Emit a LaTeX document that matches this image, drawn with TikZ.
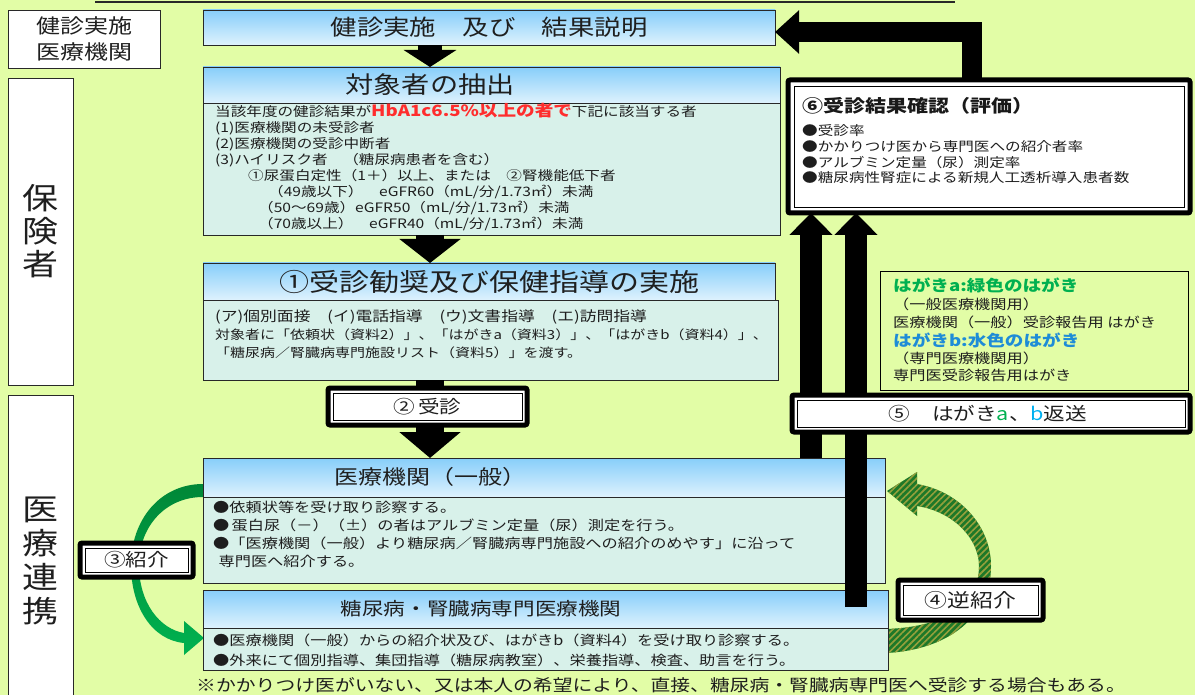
\documentclass[tikz,border=0pt]{standalone}
\usepackage{fontspec}
\setmainfont{Noto Sans CJK JP}[FakeStretch=1.2]
\usetikzlibrary{arrows.meta,patterns.meta}
\definecolor{bgc}{RGB}{226,253,166}
\definecolor{hdtop}{RGB}{135,206,250}
\definecolor{hdbot}{RGB}{222,242,253}
\definecolor{bodyc}{RGB}{216,241,234}
\definecolor{edge}{RGB}{40,40,40}
\definecolor{txt}{RGB}{30,30,30}
\definecolor{redt}{RGB}{255,45,45}
\definecolor{grt}{RGB}{0,176,80}
\definecolor{blt}{RGB}{30,140,215}
\definecolor{cyt}{RGB}{0,176,240}
\definecolor{gdark}{RGB}{0,135,55}
\definecolor{glight}{RGB}{0,178,80}
\definecolor{hatchg}{RGB}{30,120,40}
\definecolor{hatcho}{RGB}{150,160,60}
\newcommand\fs[1]{\fontsize{#1}{#1}\selectfont}
\begin{document}
\begin{tikzpicture}[x=1pt,y=-1pt,
  box/.style={draw=edge,line width=0.9pt,inner sep=0pt,outer sep=0pt,anchor=north west},
  hdr/.style={box,top color=hdtop,bottom color=hdbot},
  bod/.style={box,fill=bodyc},
  side/.style={box,fill=white},
  lbl/.style={draw=black,line width=5pt,fill=white,rounded corners=2pt,inner sep=0pt,outer sep=0pt,anchor=north west},
  tx/.style={inner sep=0pt,anchor=base west,text=txt},
  ctx/.style={inner sep=0pt,text=black!88},
  blk/.style={draw=black,line join=miter},
]
\useasboundingbox (0,0) rectangle (1195,695);
\fill[bgc] (0,0) rectangle (1195,695);
\draw[line width=1.5pt,edge] (95,2) -- (955,2);

% curved arrow (3)
\shade[top color=gdark,bottom color=glight]
 (203,484) .. controls (160,484) and (131,520) .. (131,565)
 .. controls (131,607) and (152,640) .. (184,643)
 -- (184,655) -- (204,638) -- (184,621) -- (184,633)
 .. controls (160,629) and (139,603) .. (139,565)
 .. controls (139,527) and (165,497) .. (203,497) -- cycle;
% curved arrow (4)
\path[fill=hatchg,postaction={pattern={Lines[angle=45,distance=4.5pt,line width=1.6pt]},pattern color=hatcho}]
 (886,653) .. controls (950,650) and (991,615) .. (991,566)
 .. controls (991,528) and (962,492) .. (917,484)
 -- (917,472) -- (887,491) -- (917,516) -- (917,506)
 .. controls (955,512) and (979,540) .. (979,566)
 .. controls (979,605) and (945,627) .. (886,629) -- cycle;

% side boxes
\node[side,minimum width=152,minimum height=58] (kj) at (8,10) {};
\node[side,minimum width=65,minimum height=307] (hk) at (8,78) {};
\node[side,minimum width=65,minimum height=310] (ir) at (8,395) {};
\node[ctx,align=center,font=\fontsize{20}{26}\selectfont] (kjt) at (kj.center) {健診実施\\医療機関};
\node[ctx,align=center,font=\fontsize{30}{33}\selectfont] (hkt) at (hk.center) {保\\険\\者};
\node[ctx,align=center,font=\fontsize{30}{34}\selectfont] (irt) at (40.5,561) {医\\療\\連\\携};

% main boxes
\node[hdr,minimum width=572,minimum height=35] (h0) at (203,10) {};
\node[hdr,minimum width=577,minimum height=36] (h1) at (203,67) {};
\node[bod,minimum width=577,minimum height=132] (b1) at (203,103) {};
\node[hdr,minimum width=572,minimum height=37] (h2) at (203,263) {};
\node[bod,minimum width=575,minimum height=80] (b2) at (203,300) {};
\node[hdr,minimum width=682,minimum height=39] (h3) at (203,458) {};
\node[bod,minimum width=682,minimum height=86] (b3) at (203,497) {};
\node[hdr,minimum width=685,minimum height=38] (h4) at (203,590) {};
\node[bod,minimum width=685,minimum height=42] (b4) at (203,628) {};

\node[ctx,font=\fs{22}] (h0t) at (h0.center) {健診実施　及び　結果説明};
\node[ctx,font=\fs{23.5}] (h1t) at (430,85) {対象者の抽出};
\node[ctx,font=\fs{25}] (h2t) at (h2.center) {①受診勧奨及び保健指導の実施};
\node[ctx,font=\fs{20}] (h3t) at (430,477) {医療機関（一般）};
\node[ctx,font=\fs{18}] (h4t) at (481,609) {糖尿病・腎臓病専門医療機関};

\node[tx,font=\fs{13}] (l1) at (215,117) {当該年度の健診結果が{\color{redt}\bfseries\fs{15.5}HbA1c6.5\%以上の者で}下記に該当する者};
\node[tx,font=\fs{13}] (l2) at (215,133) {(1)医療機関の未受診者};
\node[tx,font=\fs{13}] (l3) at (215,149) {(2)医療機関の受診中断者};
\node[tx,font=\fs{13}] (l4) at (215,165) {(3)ハイリスク者　（糖尿病患者を含む）};
\node[tx,font=\fs{13}] (l5) at (248,181) {①尿蛋白定性（1＋）以上、または　②腎機能低下者};
\node[tx,font=\fs{13}] (l6) at (268,197) {（49歳以下）　eGFR60（mL/分/1.73㎡）未満};
\node[tx,font=\fs{13}] (l7) at (258,213) {（50～69歳）eGFR50（mL/分/1.73㎡）未満};
\node[tx,font=\fs{13}] (l8) at (258,229) {（70歳以上）　eGFR40（mL/分/1.73㎡）未満};

\node[tx,font=\fs{14}] (m1) at (215,321) {(ア)個別面接　(イ)電話指導　(ウ)文書指導　(エ)訪問指導};
\node[tx,font=\fs{12.5}] (m2) at (215,339) {対象者に「依頼状（資料2）」、「はがきa（資料3）」、「はがきb（資料4）」、};
\node[tx,font=\fs{12.5}] (m3) at (215,357) {「糖尿病／腎臓病専門施設リスト（資料5）」を渡す。};

\node[tx,font=\fs{13.5}] (n1) at (213,512) {●依頼状等を受け取り診察する。};
\node[tx,font=\fs{13.5}] (n2) at (213,530) {●\,蛋白尿（－）（±）の者はアルブミン定量（尿）測定を行う。};
\node[tx,font=\fs{13.5}] (n3) at (213,548) {●「医療機関（一般）より糖尿病／腎臓病専門施設への紹介のめやす」に沿って};
\node[tx,font=\fs{13.5}] (n4) at (213,566) {\hspace*{0.4em}専門医へ紹介する。};

\node[tx,font=\fs{13.5}] (p1) at (213,645) {●医療機関（一般）からの紹介状及び、はがきb（資料4）を受け取り診察する。};
\node[tx,font=\fs{13.5}] (p2) at (213,665) {●外来にて個別指導、集団指導（糖尿病教室）、栄養指導、検査、助言を行う。};

\node[tx,font=\fs{16.5}] (fn) at (196,691) {※かかりつけ医がいない、又は本人の希望により、直接、糖尿病・腎臓病専門医へ受診する場合もある。};

% result box (6)
\node[lbl,minimum width=402,minimum height=133] (kaku) at (788,80) {};
\draw[line width=0.9pt] ([shift={(6,6)}]kaku.north west) rectangle ([shift={(-6,-6)}]kaku.south east);
\node[tx,text=black!90,font=\bfseries\fs{17.5}] (k0) at (802,113) {⑥受診結果確認（評価）};
\node[tx,font=\fs{13}] (k1) at (802,136) {●受診率};
\node[tx,font=\fs{13}] (k2) at (802,152) {●かかりつけ医から専門医への紹介者率};
\node[tx,font=\fs{13}] (k3) at (802,168) {●アルブミン定量（尿）測定率};
\node[tx,font=\fs{13}] (k4) at (802,183) {●糖尿病性腎症による新規人工透析導入患者数};

% block arrows
\coordinate (cx) at (430,0);
\coordinate (rx) at (972,0);
\coordinate (ry) at (0,32);
\coordinate (u1) at (811,0);
\coordinate (u2) at (856,0);
\coordinate (u2b) at (856,607);
\draw[blk,line width=24pt,-{Triangle[width=52pt,length=17pt]}] (h0.south -| cx) -- (h1.north -| cx);
\draw[blk,line width=28pt,-{Triangle[width=60pt,length=24pt]}] (b1.south -| cx) -- (h2.north -| cx);
\draw[blk,line width=28pt,-{Triangle[width=60pt,length=26pt]}] (b2.south -| cx) -- (h3.north -| cx);
\draw[blk,line width=20pt,-{Triangle[width=42pt,length=24pt]}] (kaku.north -| rx) -- (rx |- ry) -- (h0.east |- ry);
\draw[blk,line width=22pt,-{Triangle[width=42pt,length=22pt]}] (h3.north -| u1) -- (kaku.south -| u1);
\draw[blk,line width=22pt,-{Triangle[width=42pt,length=22pt]}] (u2b) -- (kaku.south -| u2);

% hagaki legend
\node[box,draw=black,line width=1pt,minimum width=308,minimum height=118] (hg) at (880,272) {};
\node[tx,text=grt,font=\bfseries\fs{15.5}] (g1) at (893,291) {はがきa:緑色のはがき};
\node[tx,font=\fs{13.5}] (g2) at (893,309) {（一般医療機関用）};
\node[tx,font=\fs{13.5}] (g3) at (893,327) {医療機関（一般）受診報告用 はがき};
\node[tx,text=blt,font=\bfseries\fs{15.5}] (g4) at (893,346) {はがきb:水色のはがき};
\node[tx,font=\fs{13.5}] (g5) at (893,363) {（専門医療機関用）};
\node[tx,font=\fs{13.5}] (g6) at (893,381) {専門医受診報告用はがき};

% labels
\node[lbl,minimum width=199,minimum height=37] (jushin) at (328,388) {};
\draw[line width=0.8pt] ([shift={(5,5)}]jushin.north west) rectangle ([shift={(-5,-5)}]jushin.south east);
\node[ctx,font=\fs{18}] (jt) at (jushin.center) {②\,受診};
\node[lbl,minimum width=398,minimum height=37] (hen) at (792,395) {};
\draw[line width=0.8pt] ([shift={(5,5)}]hen.north west) rectangle ([shift={(-5,-5)}]hen.south east);
\node[ctx,font=\fs{18}] (ht) at (988,414) {⑤　はがき{\color{grt}a}、{\color{cyt}b}返送};
\node[lbl,minimum width=113,minimum height=34] (shokai) at (80,543) {};
\draw[line width=0.8pt] ([shift={(5,5)}]shokai.north west) rectangle ([shift={(-5,-5)}]shokai.south east);
\node[ctx,font=\fs{18}] (st) at (shokai.center) {③紹介};
\node[lbl,minimum width=145,minimum height=40] (gyaku) at (898,580) {};
\draw[line width=0.8pt] ([shift={(5,5)}]gyaku.north west) rectangle ([shift={(-5,-5)}]gyaku.south east);
\node[ctx,font=\fs{19}] (gt) at (gyaku.center) {④逆紹介};
\end{tikzpicture}
\end{document}
